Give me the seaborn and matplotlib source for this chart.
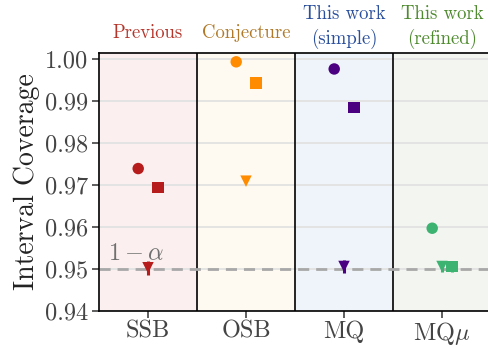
import numpy as np
import pandas as pd
import seaborn as sns
import matplotlib
matplotlib.use("Agg")
import matplotlib.pyplot as plt

# Coverage results per method and estimator variant
methods = ["SSB", "OSB", "MQ", "MQ$\\mu$"]
groups = ["Previous", "Conjecture", "This work\n(simple)", "This work\n(refined)"]
circle_cov = [0.9739, 0.9993, 0.9976, 0.9597]
circle_err = [0.0003, 0.0002, 0.0002, 0.0008]
triangle_cov = [0.9503, 0.9709, 0.9506, 0.9506]
triangle_err = [0.0017, 0.0003, 0.0015, 0.0013]
square_cov = [0.9694, 0.9943, 0.9884, 0.9506]
square_err = [0.0008, 0.0003, 0.0003, 0.0012]
target = 0.95

method_colors = ["#b71c1c", "#ff8c00", "#4b0082", "#3cb371"]
group_colors = ["#b5352b", "#b07a2a", "#2a4f9c", "#4e8a2e"]
band_colors = ["#fbefef", "#fffaf1", "#eff3fa", "#f3f6f0"]

sns.set_theme(style="white")
plt.rcParams["font.family"] = ["cmr10", "DejaVu Serif"]
plt.rcParams["mathtext.fontset"] = "cm"
plt.rcParams["axes.formatter.use_mathtext"] = True

offsets = {"circle": -0.1, "triangle": 0.0, "square": 0.1}
rows = []
for i, m in enumerate(methods):
    for est, cov, err in (("circle", circle_cov, circle_err),
                          ("triangle", triangle_cov, triangle_err),
                          ("square", square_cov, square_err)):
        rows.append(dict(method=m, idx=i, estimator=est, pos=i + offsets[est],
                         coverage=cov[i], err=err[i]))
df = pd.DataFrame(rows)

fig = plt.figure(figsize=(4.88, 3.46), dpi=100)
ax = fig.add_axes([99 / 488, 35 / 346, 392 / 488, 258 / 346])

for i, c in enumerate(band_colors):
    ax.axvspan(i - 0.5, i + 0.5, color=c, zorder=0, lw=0)
for b in [0.5, 1.5, 2.5]:
    ax.axvline(b, color="black", lw=1.2, zorder=1)

for t in [0.94, 0.95, 0.96, 0.97, 0.98, 0.99, 1.00]:
    ax.axhline(t, color="#e2e2e2", lw=1.3, zorder=0.5)
ax.axhline(target, color="#a8a8a8", lw=2.0, ls=(0, (4, 2.5)), zorder=1.5)

palette = dict(zip(methods, method_colors))
for _, r in df.iterrows():
    ax.errorbar(r["pos"], r["coverage"], yerr=r["err"], fmt="none",
                ecolor=palette[r["method"]], elinewidth=2.2, capsize=0, zorder=2)

sns.scatterplot(data=df, x="pos", y="coverage", hue="method", style="estimator",
                markers={"circle": "o", "triangle": "v", "square": "s"},
                palette=palette, s=68, edgecolor="none", legend=False, ax=ax, zorder=3)

ax.set_xlim(-0.5, 3.5)
ax.set_ylim(0.94, 1.0014)
ax.set_xticks(range(len(methods)))
ax.set_xticklabels(methods)
ax.set_yticks([0.94, 0.95, 0.96, 0.97, 0.98, 0.99, 1.00])
ax.set_yticklabels([f"{v:.2f}" for v in [0.94, 0.95, 0.96, 0.97, 0.98, 0.99, 1.00]])
ax.tick_params(axis="both", labelsize=17.5, colors="#444444", length=5, width=1.1,
               direction="out", bottom=True, left=True, pad=3)
ax.tick_params(axis="x", pad=1.5)
ax.tick_params(axis="both", color="#333333")
ax.set_xlabel("")
ax.set_ylabel("Interval Coverage", fontsize=20, color="#222222", labelpad=3)
for s in ax.spines.values():
    s.set_color("black")
    s.set_linewidth(1.2)

ax.text(-0.41, 0.9536, "$1-\\alpha$", fontsize=17.5, color="#707070",
        ha="left", va="center", zorder=4)

for i, (g, c) in enumerate(zip(groups, group_colors)):
    ypos = 1.0014 + (0.0048 if "\n" not in g else 0.0062)
    ax.text(i, ypos, g, ha="center", va="center", fontsize=13.5, color=c,
            linespacing=1.4, clip_on=False)

fig.savefig("out.png", dpi=100)
